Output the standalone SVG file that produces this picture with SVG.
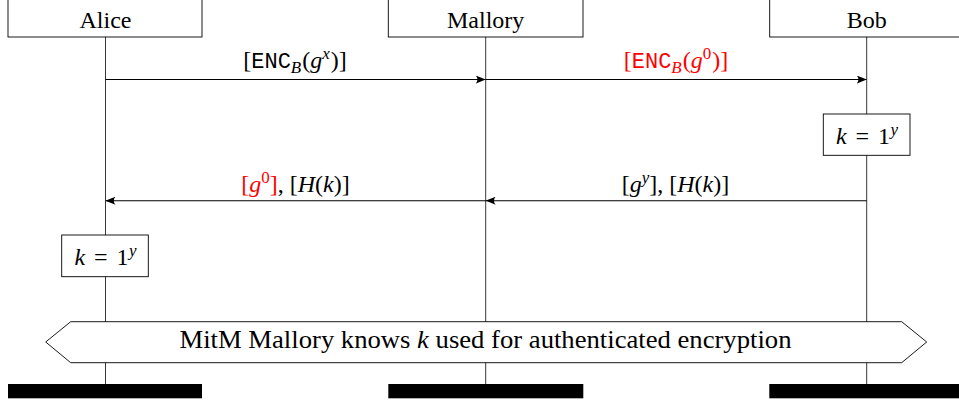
<svg xmlns="http://www.w3.org/2000/svg" width="959" height="403" viewBox="0 0 959 403">
<defs>
<style>
.box{fill:#fff;stroke:#000;stroke-width:0.9}
.life{stroke:#222;stroke-width:0.9}
.msg{stroke:#000;stroke-width:1.1;fill:none;marker-end:url(#ah)}
.bar{fill:#000}
text{font-family:"Liberation Serif","Times New Roman",serif;font-size:24px;fill:#000}
.t{text-anchor:middle}
.i{font-style:italic}
.m{font-family:"Liberation Mono","Courier New",monospace;font-size:22px}
.s{font-size:17px}
.red{fill:#ff0000}
</style>
<marker id="ah" viewBox="0 0 10 8" refX="10" refY="4" markerWidth="10" markerHeight="8" markerUnits="userSpaceOnUse" orient="auto">
<path d="M0,0 L10,4 L0,8 Q3.5,4 0,0 z" fill="#000"/>
</marker>
</defs>
<g id="lifelines">
<line class="life" x1="105.5" y1="37" x2="105.5" y2="384"/>
<line class="life" x1="485.7" y1="37" x2="485.7" y2="384"/>
<line class="life" x1="866.7" y1="37" x2="866.7" y2="384"/>
</g>
<g id="alice"><rect class="box" x="8" y="-1" width="194" height="38"/><text class="t" x="105.5" y="27.5">Alice</text></g>
<g id="mallory"><rect class="box" x="388.3" y="-1" width="194.7" height="38"/><text class="t" x="485.7" y="27.5">Mallory</text></g>
<g id="bob"><rect class="box" x="769.7" y="-1" width="194" height="38"/><text class="t" x="866.7" y="27.5">Bob</text></g>
<g id="connectors">
<line class="msg" x1="105.5" y1="79.5" x2="485.7" y2="79.5"/>
<line class="msg" x1="485.7" y1="79.5" x2="866.7" y2="79.5"/>
<line class="msg" x1="866.7" y1="200.7" x2="485.7" y2="200.7"/>
<line class="msg" x1="485.7" y1="200.7" x2="105.5" y2="200.7"/>
</g>
<g id="labels">
<text class="t" x="295" y="67.5">[<tspan class="m">ENC</tspan><tspan class="i s" dy="5">B</tspan><tspan dy="-5" dx="1">(</tspan><tspan class="i">g</tspan><tspan class="i s" dy="-9">x</tspan><tspan dy="9" dx="1">)]</tspan></text>
<text class="t red" x="676" y="67.5">[<tspan class="m">ENC</tspan><tspan class="i s" dy="5">B</tspan><tspan dy="-5" dx="1">(</tspan><tspan class="i">g</tspan><tspan class="s" dy="-9">0</tspan><tspan dy="9" dx="1">)]</tspan></text>
<text class="t" x="295.5" y="191.5"><tspan class="red">[</tspan><tspan class="red i">g</tspan><tspan class="red s" dy="-9">0</tspan><tspan class="red" dy="9">]</tspan>, [<tspan class="i">H</tspan>(<tspan class="i">k</tspan>)]</text>
<text class="t" x="675.5" y="191.5">[<tspan class="i">g</tspan><tspan class="i s" dy="-9">y</tspan><tspan dy="9">], [</tspan><tspan class="i">H</tspan>(<tspan class="i">k</tspan>)]</text>
</g>
<g id="bob-key"><rect class="box" x="823.3" y="114" width="86.7" height="41.3"/><text class="t" x="867" y="143.5"><tspan class="i">k</tspan><tspan dx="9">=</tspan><tspan dx="9">1</tspan><tspan class="i s" dx="0.5" dy="-9">y</tspan></text></g>
<g id="alice-key"><rect class="box" x="61.7" y="235" width="86.6" height="41.7"/><text class="t" x="105.5" y="264.5"><tspan class="i">k</tspan><tspan dx="9">=</tspan><tspan dx="9">1</tspan><tspan class="i s" dx="0.5" dy="-9">y</tspan></text></g>
<g id="banner"><polygon class="box" points="45.7,342 70.7,321.7 901.7,321.7 926.7,342 901.7,362.7 70.7,362.7"/><text class="t" x="485.5" y="348" style="font-size:24.5px" textLength="612" lengthAdjust="spacingAndGlyphs">MitM Mallory knows <tspan class="i">k</tspan> used for authenticated encryption</text></g>
<g id="ends">
<rect class="bar" x="8" y="384" width="194" height="14.3"/>
<rect class="bar" x="388.3" y="384" width="195" height="14.3"/>
<rect class="bar" x="769.3" y="384" width="194" height="14.3"/>
</g>
</svg>
